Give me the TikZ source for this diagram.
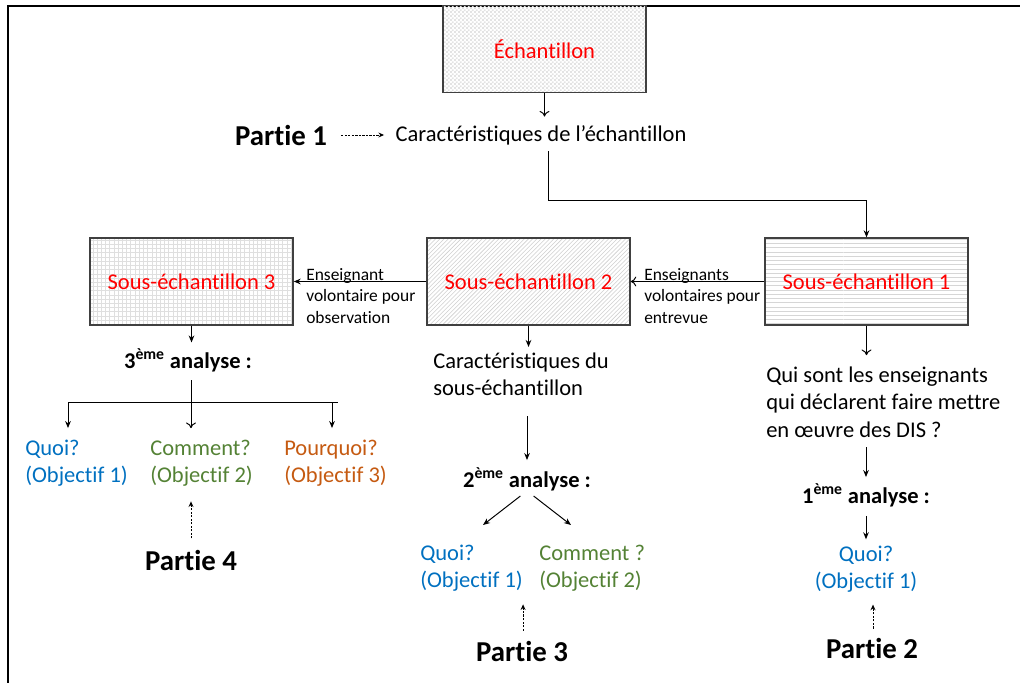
\documentclass[tikz,border=0pt]{standalone}
\usepackage{fontspec}
\setmainfont{Carlito}[Ligatures=NoCommon]
\usetikzlibrary{arrows.meta,patterns}

\definecolor{quoiblue}{RGB}{0,112,192}
\definecolor{comgreen}{RGB}{84,130,53}
\definecolor{pqorange}{RGB}{197,90,17}

% fine checkerboard
\pgfdeclarepatternformonly{finechecker}{\pgfpointorigin}{\pgfpoint{3pt}{3pt}}{\pgfpoint{3pt}{3pt}}{
  \pgfpathrectangle{\pgfpointorigin}{\pgfpoint{1.5pt}{1.5pt}}
  \pgfpathrectangle{\pgfpoint{1.5pt}{1.5pt}}{\pgfpoint{1.5pt}{1.5pt}}
  \pgfusepath{fill}
}

\begin{document}
\begin{tikzpicture}[x=0.025cm, y=-0.025cm,
  box/.style={draw=black!75, line width=0.9pt, minimum width=5.075cm,
    minimum height=2.175cm, inner sep=0pt, text=red,
    font=\fontsize{16}{19.5}\selectfont},
  txt/.style={inner sep=0pt, align=left, font=\fontsize{16}{19.5}\selectfont},
  lbl/.style={inner sep=0pt, align=left, font=\fontsize{12.4}{15.6}\selectfont},
  part/.style={inner sep=0pt, font=\fontsize{20.5}{24}\selectfont\bfseries},
  ana/.style={inner sep=0pt, font=\fontsize{16}{19.5}\selectfont\bfseries},
  arr/.style={-{Stealth[length=5pt,width=4pt]}, line width=0.7pt},
  oarr/.style={-{To[length=4pt,width=7pt]}, line width=0.7pt},
  darr/.style={-{Stealth[length=4pt,width=3.5pt]}, line width=0.6pt, dash pattern=on 1.5pt off 1pt}]
  \useasboundingbox (0,0) rectangle (1020,683);

  % Frame
  \draw[line width=1.6pt] (8,683) -- (8,6) -- (1020,6);

  % Sample boxes
  \node[box, pattern=finechecker, pattern color=gray!22] (ech) at (544.5,49) {Échantillon};
  \node[box, pattern=horizontal lines, pattern color=gray!32] (s1) at (866.5,281.5) {Sous-échantillon 1};
  \node[box, pattern=north east lines, pattern color=gray!38] (s2) at (528.5,281.5) {Sous-échantillon 2};
  \node[box, pattern=grid, pattern color=gray!25] (s3) at (191.5,281.5) {Sous-échantillon 3};

  % Texts
  \node[txt] (car) at (541,135) {Caractéristiques de l’échantillon};
  \node[part] (p1) at (281,135) {Partie 1};
  \node[lbl, anchor=west] (l12) at (644,296) {Enseignants\\volontaires pour\\entrevue};
  \node[lbl, anchor=west] (l23) at (306,296) {Enseignant\\volontaire pour\\observation};

  % Sous-echantillon 3
  \node[ana] (a3) at (188,360) {3\textsuperscript{ème} analyse :};
  \node[txt, anchor=west, text=quoiblue] (q3) at (25,463) {Quoi?\\(Objectif 1)};
  \node[txt, anchor=west, text=comgreen] (c3) at (150,463) {Comment?\\(Objectif 2)};
  \node[txt, anchor=west, text=pqorange] (r3) at (284,463) {Pourquoi?\\(Objectif 3)};
  \node[part] (p4) at (191,560) {Partie 4};

  % Sous-echantillon 2
  \node[txt, anchor=west] (car2) at (433,374.5) {Caractéristiques du\\sous-échantillon};
  \node[ana] (a2) at (527,479) {2\textsuperscript{ème} analyse :};
  \node[txt, anchor=west, text=quoiblue] (q2) at (420,568) {Quoi?\\(Objectif 1)};
  \node[txt, anchor=west, text=comgreen] (c2) at (539,568) {Comment ?\\(Objectif 2)};
  \node[part] (p3) at (522,651) {Partie 3};

  % Sous-echantillon 1
  \node[txt, anchor=west] (qui) at (766,402) {Qui sont les enseignants\\qui déclarent faire mettre\\en œuvre des DIS ?};
  \node[ana] (a1) at (866,495) {1\textsuperscript{ème} analyse :};
  \node[txt, align=center, text=quoiblue] (q1) at (866,569) {Quoi?\\(Objectif 1)};
  \node[part] (p2) at (872,648) {Partie 2};

  % Connectors
  \coordinate (elbow) at (548,200);
  \coordinate (bl) at (68,402);
  \coordinate (bm) at (191,402);
  \coordinate (br) at (332,402);
  \coordinate (brend) at (338,402);
  \coordinate (dl) at (483,525);
  \coordinate (dr) at (571,525);

  \draw[oarr, shorten >=6pt] (ech.south) -- (ech.south |- car.north);
  \draw[arr] (car.south -| elbow) ++(0,6) -- (elbow) -| (s1.north);
  \draw[darr, shorten <=10pt, shorten >=8pt] (p1.east) -- (car.west);
  \draw[oarr] (s1.west) -- (s2.east);
  \draw[arr] (s2.west) -- (s3.east);

  \draw[arr, shorten >=4pt] (s3.south) -- (s3.south |- a3.north);
  \draw (bl) -- (brend);
  \draw[oarr, shorten <=6pt, shorten >=8pt] (a3.south -| bm) -- (bm |- c3.north);
  \draw[arr, shorten >=8pt] (bl) -- (bl |- q3.north);
  \draw[arr, shorten >=8pt] (br) -- (br |- r3.north);
  \draw[darr, shorten <=8pt, shorten >=10.5pt] (p4.north) -- (p4.north |- c3.south);

  \draw[arr, shorten >=4pt] (s2.south) -- (s2.south |- car2.north);
  \draw[arr, shorten <=14pt, shorten >=5pt] (car2.south -| a2.north) -- (a2.north);
  \draw[arr, shorten <=6pt] (a2.south) -- (dl);
  \draw[arr, shorten <=6pt] (a2.south) -- (dr);
  \draw[darr, shorten <=7pt, shorten >=9pt] (p3.north -| q2.east) -- (q2.south -| q2.east);

  \draw[oarr, shorten >=8pt] (s1.south) -- (s1.south |- qui.north);
  \draw[arr, shorten <=7pt, shorten >=4.3pt] (qui.south -| a1.north) -- (a1.north);
  \draw[arr, shorten <=6.4pt, shorten >=4.3pt] (a1.south) -- (q1.north);
  \draw[darr, shorten <=6.4pt, shorten >=8.5pt] (p2.north -| q1.south) ++(7,0) -- ([xshift=7*0.025cm]q1.south);
\end{tikzpicture}
\end{document}
